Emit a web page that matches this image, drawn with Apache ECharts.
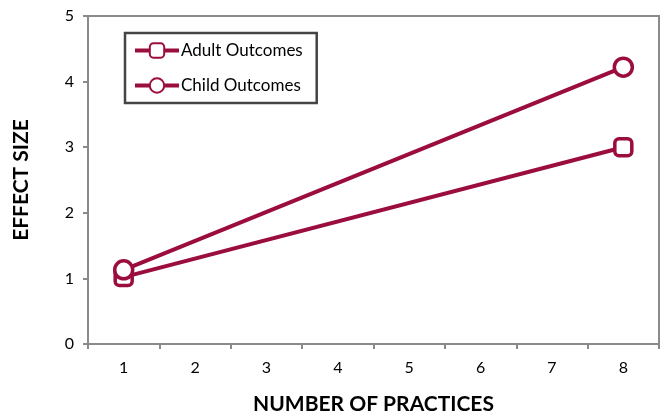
<!DOCTYPE html>
<html>
<head>
<meta charset="utf-8">
<script src="https://cdn.jsdelivr.net/npm/echarts@6/dist/echarts.min.js"></script>
<style>html,body{margin:0;padding:0;background:#fff}#c{width:664px;height:413px}</style>
</head>
<body>
<div id="c"></div>
<script>
const categories = ['1','2','3','4','5','6','7','8'];
const adultOutcomes = [1.02, null, null, null, null, null, null, 3.0];
const childOutcomes = [1.13, null, null, null, null, null, null, 4.22];
const yTicks = [0, 1, 2, 3, 4, 5];

const color = '#9B0D3F';
const axisGray = '#8a8a8a';
const font = 'Lato';
const chart = echarts.init(document.getElementById('c'));
chart.setOption({
  animation: false,
  grid: { left: 88, right: 5, top: 16, bottom: 69, outerBoundsMode: 'none', containLabel: false,
    show: true, borderColor: axisGray, borderWidth: 2, backgroundColor: 'transparent' },
  legend: {
    orient: 'vertical', left: 125, top: 33,
    padding: [9, 14, 9, 8], itemGap: 18,
    borderColor: '#444', borderWidth: 2.5,
    itemWidth: 44, itemHeight: 18,
    lineStyle: { width: 4 },
    textStyle: { fontFamily: font, fontSize: 17, color: '#000', padding: [0, 0, 0, -3] },
    data: ['Adult Outcomes', 'Child Outcomes']
  },
  xAxis: {
    type: 'category', data: categories, boundaryGap: true,
    name: 'NUMBER OF PRACTICES', nameLocation: 'middle', nameGap: 50,
    nameTextStyle: { fontFamily: font, fontSize: 21, fontWeight: 'bold', color: '#000' },
    axisLine: { lineStyle: { color: axisGray, width: 2 } },
    axisTick: { show: true, length: 5, lineStyle: { color: axisGray, width: 2 } },
    axisLabel: { fontFamily: font, fontSize: 16, color: '#000', margin: 16 },
    splitLine: { show: false }
  },
  yAxis: {
    type: 'value', min: 0, max: 5, interval: 1,
    name: 'EFFECT SIZE', nameLocation: 'middle', nameGap: 56, nameRotate: 90,
    nameTextStyle: { fontFamily: font, fontSize: 21, fontWeight: 'bold', color: '#000' },
    axisLine: { show: true, lineStyle: { color: axisGray, width: 2 } },
    axisTick: { show: true, length: 5, lineStyle: { color: axisGray, width: 2 } },
    axisLabel: { fontFamily: font, fontSize: 16, color: '#000', margin: 14,
      formatter: v => yTicks.includes(v) ? String(v) : '' },
    splitLine: { show: false }
  },
  series: [
    {
      name: 'Adult Outcomes', type: 'line', data: adultOutcomes, connectNulls: true,
      symbol: 'roundRect', symbolSize: 17, showAllSymbol: true,
      itemStyle: { color: '#fff', borderColor: color, borderWidth: 3.5 },
      lineStyle: { color: color, width: 4 }
    },
    {
      name: 'Child Outcomes', type: 'line', data: childOutcomes, connectNulls: true,
      symbol: 'circle', symbolSize: 18, showAllSymbol: true,
      itemStyle: { color: '#fff', borderColor: color, borderWidth: 3.5 },
      lineStyle: { color: color, width: 4 }
    }
  ]
});
</script>
</body>
</html>
